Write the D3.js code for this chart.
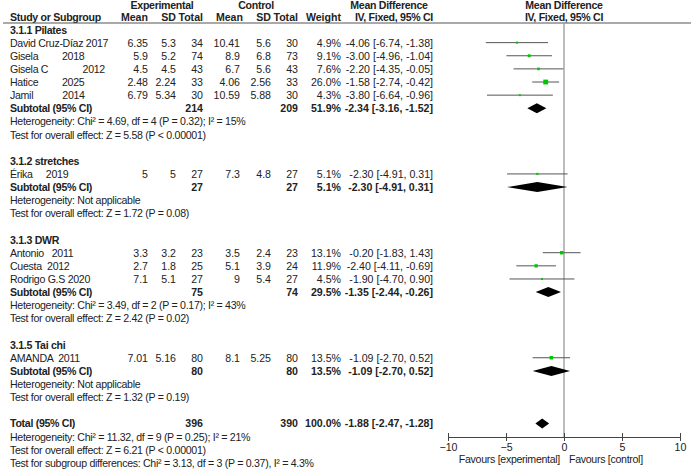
<!DOCTYPE html>
<html>
<head>
<meta charset="utf-8">
<script src="https://cdn.jsdelivr.net/npm/d3@7"></script>
<style>
  body { margin: 0; background: #fff; }
  svg text { font-family: "Liberation Sans", Arial, sans-serif; font-size: 10.6px; fill: #222; white-space: pre; }
  svg text.lbl { letter-spacing: -0.3px; }
</style>
</head>
<body>
<div id="chart"></div>
<script>
// forest plot data
const groupTitles = ["3.1.1 Pilates", "3.1.2 stretches", "3.1.3 DWR", "3.1.5 Tai chi"];
const studies = ["David Cruz-Díaz 2017", "Gisela         2018", "Gisela C             2012", "Hatice         2025",
  "Jamil           2014", "Érika     2019", "Antonio   2011", "Cuesta  2012", "Rodrigo G.S 2020", "AMANDA  2011"];
const studyGroup = [0, 0, 0, 0, 0, 1, 2, 2, 2, 3];
const expMean = [6.35, 5.9, 4.5, 2.48, 6.79, 5, 3.3, 2.7, 7.1, 7.01];
const expSD = [5.3, 5.2, 4.5, 2.24, 5.34, 5, 3.2, 1.8, 5.1, 5.16];
const expN = [34, 74, 43, 33, 30, 27, 23, 25, 27, 80];
const ctlMean = [10.41, 8.9, 6.7, 4.06, 10.59, 7.3, 3.5, 5.1, 9, 8.1];
const ctlSD = [5.6, 6.8, 5.6, 2.56, 5.88, 4.8, 2.4, 3.9, 5.4, 5.25];
const ctlN = [30, 73, 43, 33, 30, 27, 23, 24, 27, 80];
const weight = [4.9, 9.1, 7.6, 26.0, 4.3, 5.1, 13.1, 11.9, 4.5, 13.5];
const md = [-4.06, -3.00, -2.20, -1.58, -3.80, -2.30, -0.20, -2.40, -1.90, -1.09];
const lo = [-6.74, -4.96, -4.35, -2.74, -6.64, -4.91, -1.83, -4.11, -4.70, -2.70];
const hi = [-1.38, -1.04, -0.05, -0.42, -0.96, 0.31, 1.43, -0.69, 0.90, 0.52];

const subExpN = [214, 27, 75, 80];
const subCtlN = [209, 27, 74, 80];
const subWeight = [51.9, 5.1, 29.5, 13.5];
const subMd = [-2.34, -2.30, -1.35, -1.09];
const subLo = [-3.16, -4.91, -2.44, -2.70];
const subHi = [-1.52, 0.31, -0.26, 0.52];
const subHet = ["Heterogeneity: Chi² = 4.69, df = 4 (P = 0.32); I² = 15%", "Heterogeneity: Not applicable",
  "Heterogeneity: Chi² = 3.49, df = 2 (P = 0.17); I² = 43%", "Heterogeneity: Not applicable"];
const subTest = ["Test for overall effect: Z = 5.58 (P < 0.00001)", "Test for overall effect: Z = 1.72 (P = 0.08)",
  "Test for overall effect: Z = 2.42 (P = 0.02)", "Test for overall effect: Z = 1.32 (P = 0.19)"];

const totalExpN = 396, totalCtlN = 390, totalWeight = 100.0;
const totalMd = -1.88, totalLo = -2.47, totalHi = -1.28;
const totalNotes = ["Heterogeneity: Chi² = 11.32, df = 9 (P = 0.25); I² = 21%",
  "Test for overall effect: Z = 6.21 (P < 0.00001)",
  "Test for subgroup differences: Chi² = 3.13, df = 3 (P = 0.37), I² = 4.3%"];
const axisTicks = [-10, -5, 0, 5, 10];

const width = 699, height = 471;
const svg = d3.select("#chart").append("svg").attr("width", width).attr("height", height);

// column right edges
const col = {name: 10, eMean: 148, eSD: 176, eN: 203, cMean: 240, cSD: 271, cN: 298, w: 341, ci: 433};
const rowY = i => 29.5 + 13.13 * i;
const x = d3.scaleLinear().domain([-10, 10]).range([448, 680]);

const fmtCI = (m, l, h) => `${m.toFixed(2)} [${l.toFixed(2)}, ${h.toFixed(2)}]`;

// build rows
let rows = [];
groupTitles.forEach((g, gi) => {
  rows.push({type: "title", text: g});
  studies.forEach((s, i) => { if (studyGroup[i] === gi) rows.push({type: "study", i: i}); });
  rows.push({type: "sub", g: gi});
  rows.push({type: "note", text: subHet[gi]});
  rows.push({type: "note", text: subTest[gi]});
  rows.push({type: "blank"});
});
rows.push({type: "total"});
totalNotes.forEach(t => rows.push({type: "note", text: t}));

function txt(xp, y, s, anchor, bold, lbl) {
  return svg.append("text").attr("x", xp).attr("y", y + 4).attr("text-anchor", anchor || "start")
    .attr("class", lbl ? "lbl" : null)
    .style("font-weight", bold ? "bold" : "normal").text(s);
}

// headers
txt(162, 5, "Experimental", "middle", true, true);
txt(256, 5, "Control", "middle", true, true);
txt(389, 5, "Mean Difference", "middle", true, true);
txt(x(0), 5, "Mean Difference", "middle", true, true);
txt(col.name, 17, "Study or Subgroup", "start", true, true);
txt(col.eMean, 17, "Mean", "end", true);
txt(col.eSD, 17, "SD", "end", true);
txt(col.eN, 17, "Total", "end", true);
txt(col.cMean + 3, 17, "Mean", "end", true);
txt(col.cSD, 17, "SD", "end", true);
txt(col.cN, 17, "Total", "end", true);
txt(col.w, 17, "Weight", "end", true);
txt(col.ci, 17, "IV, Fixed, 95% CI", "end", true, true);
txt(x(0), 17, "IV, Fixed, 95% CI", "middle", true, true);

svg.append("line").attr("x1", 3).attr("x2", 691).attr("y1", 23).attr("y2", 23)
  .attr("stroke", "#555").attr("stroke-width", 1);

// zero line
const axisY = 437;
svg.append("line").attr("x1", x(0)).attr("x2", x(0)).attr("y1", 23).attr("y2", axisY)
  .attr("stroke", "#999").attr("stroke-width", 1.3);

function diamond(y, m, l, h) {
  const pts = [[x(l), y], [x(m), y - 5], [x(h), y], [x(m), y + 5]];
  svg.append("path").attr("d", "M" + pts.join("L") + "Z").attr("fill", "#000");
}

rows.forEach((r, k) => {
  const y = rowY(k);
  if (r.type === "title") txt(col.name, y, r.text, "start", true, true);
  else if (r.type === "note") txt(col.name, y, r.text, "start", false, true);
  else if (r.type === "study") {
    const i = r.i;
    txt(col.name, y, studies[i], "start", false, true);
    txt(col.eMean, y, String(expMean[i]), "end");
    txt(col.eSD, y, String(expSD[i]), "end");
    txt(col.eN, y, String(expN[i]), "end");
    txt(col.cMean, y, String(ctlMean[i]), "end");
    txt(col.cSD, y, String(ctlSD[i]), "end");
    txt(col.cN, y, String(ctlN[i]), "end");
    txt(col.w, y, weight[i].toFixed(1) + "%", "end");
    txt(col.ci, y, fmtCI(md[i], lo[i], hi[i]), "end");
    svg.append("line").attr("x1", x(lo[i])).attr("x2", x(hi[i])).attr("y1", y).attr("y2", y)
      .attr("stroke", "#555").attr("stroke-width", 1);
    const s = 0.95 * Math.sqrt(weight[i]);
    svg.append("rect").attr("x", x(md[i]) - s / 2).attr("y", y - s / 2).attr("width", s).attr("height", s)
      .attr("fill", "#00c800");
  } else if (r.type === "sub") {
    const g = r.g;
    txt(col.name, y, "Subtotal (95% CI)", "start", true, true);
    txt(col.eN, y, String(subExpN[g]), "end", true);
    txt(col.cN, y, String(subCtlN[g]), "end", true);
    txt(col.w, y, subWeight[g].toFixed(1) + "%", "end", true);
    txt(col.ci, y, fmtCI(subMd[g], subLo[g], subHi[g]), "end", true);
    diamond(y, subMd[g], subLo[g], subHi[g]);
  } else if (r.type === "total") {
    txt(col.name, y, "Total (95% CI)", "start", true, true);
    txt(col.eN, y, String(totalExpN), "end", true);
    txt(col.cN, y, String(totalCtlN), "end", true);
    txt(col.w, y, totalWeight.toFixed(1) + "%", "end", true);
    txt(col.ci, y, fmtCI(totalMd, totalLo, totalHi), "end", true);
    diamond(y, totalMd, totalLo, totalHi);
  }
});

// axis
const axis = svg.append("g").attr("transform", `translate(0,${axisY})`)
  .call(d3.axisBottom(x).tickValues(axisTicks).tickSize(4).tickSizeOuter(0).tickPadding(2).tickFormat(d3.format("d")));
axis.select(".domain").attr("stroke", "#444");
axis.selectAll(".tick line").attr("y1", -4).attr("y2", 4).attr("stroke", "#444");
axis.selectAll(".tick text").style("font-size", "10.6px").attr("fill", "#222");

txt(x(0) - 4, 459, "Favours [experimental]", "end", false, true);
txt(x(0) + 5, 459, "Favours [control]", "start", false, true);
</script>
</body>
</html>
